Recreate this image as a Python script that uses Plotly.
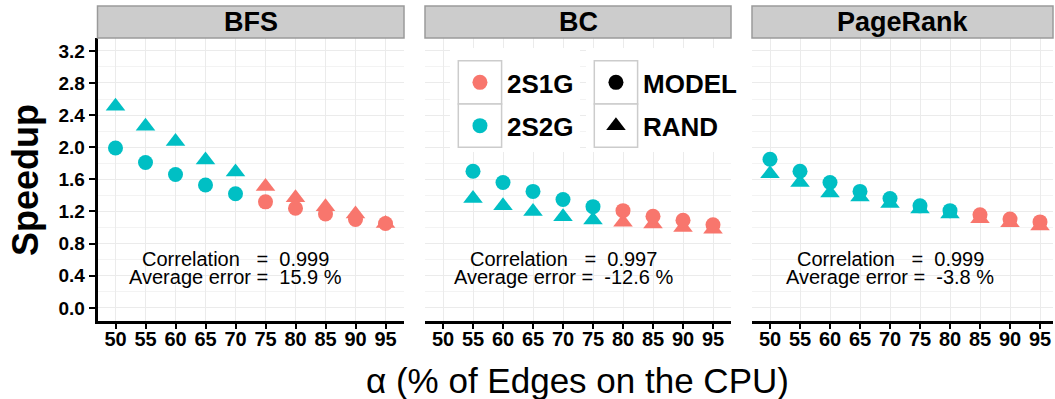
import plotly.graph_objects as go

W, H = 1055, 399

# ---------------- data ----------------
panels = ["BFS", "BC", "PageRank"]

bfs_alpha = [50, 55, 60, 65, 70, 75, 80, 85, 90, 95]
bfs_model = [1.99, 1.81, 1.66, 1.53, 1.42, 1.32, 1.24, 1.17, 1.10, 1.05]
bfs_rand = [2.51, 2.26, 2.07, 1.84, 1.69, 1.51, 1.37, 1.26, 1.17, 1.05]
bfs_config = ["2S2G", "2S2G", "2S2G", "2S2G", "2S2G", "2S1G", "2S1G", "2S1G", "2S1G", "2S1G"]

bc_alpha = [55, 60, 65, 70, 75, 80, 85, 90, 95]
bc_model = [1.70, 1.56, 1.45, 1.35, 1.26, 1.21, 1.14, 1.09, 1.035]
bc_rand = [1.36, 1.27, 1.20, 1.135, 1.095, 1.065, 1.045, 1.00, 0.98]
bc_config = ["2S2G", "2S2G", "2S2G", "2S2G", "2S2G", "2S1G", "2S1G", "2S1G", "2S1G"]

pr_alpha = [50, 55, 60, 65, 70, 75, 80, 85, 90, 95]
pr_model = [1.85, 1.70, 1.56, 1.45, 1.36, 1.27, 1.21, 1.16, 1.105, 1.07]
pr_rand = [1.67, 1.56, 1.43, 1.38, 1.30, 1.23, 1.17, 1.11, 1.06, 1.02]
pr_config = ["2S2G", "2S2G", "2S2G", "2S2G", "2S2G", "2S2G", "2S2G", "2S1G", "2S1G", "2S1G"]

correlation = ["0.999", "0.997", "0.999"]
avg_error = ["15.9", "-12.6", "-3.8"]

alpha_ticks = [50, 55, 60, 65, 70, 75, 80, 85, 90, 95]
speedup_ticks = [0.0, 0.4, 0.8, 1.2, 1.6, 2.0, 2.4, 2.8, 3.2]

config_labels = ["2S1G", "2S2G"]
config_colors = ["#F8766D", "#00BFC4"]
method_labels = ["MODEL", "RAND"]
method_symbols = ["circle", "triangle-up"]

x_title = "α (% of Edges on the CPU)"
y_title = "Speedup"

# ---------------- layout geometry (pixels) ----------------
FONT = "Liberation Sans, Arial, Helvetica, sans-serif"
panel_x = [(97.5, 404.0), (425.0, 731.0), (752.0, 1053.0)]
PANEL_TOP, PANEL_BOT = 38.0, 320.7
STRIP_TOP = 6.0
PX_PER_UNIT = 6.0
Y_RANGE = [-0.16, 3.36]

color_of = dict(zip(config_labels, config_colors))
sym_of = dict(zip(method_labels, method_symbols))
MSIZE = {"circle": 15, "triangle-up": 17}

fig = go.Figure()

data = [
    (bfs_alpha, bfs_model, bfs_rand, bfs_config),
    (bc_alpha, bc_model, bc_rand, bc_config),
    (pr_alpha, pr_model, pr_rand, pr_config),
]

for i, (alpha, model, rand, cfg) in enumerate(data):
    xa = "x" if i == 0 else f"x{i+1}"
    ya = "y" if i == 0 else f"y{i+1}"
    for method, vals in (("RAND", rand), ("MODEL", model)):
        fig.add_trace(go.Scatter(
            x=alpha, y=vals, mode="markers", xaxis=xa, yaxis=ya,
            marker=dict(symbol=sym_of[method], size=MSIZE[sym_of[method]], opacity=1,
                        color=[color_of[c] for c in cfg], line=dict(width=0)),
            showlegend=False, hoverinfo="skip", cliponaxis=False,
        ))

def px2paper_x(px):
    return px / W

def px2paper_y(py):
    return 1 - py / H

layout = dict(
    width=W, height=H,
    margin=dict(l=0, r=0, t=0, b=0),
    paper_bgcolor="white",
    plot_bgcolor="rgba(0,0,0,0)",
    showlegend=False,
    font=dict(family=FONT, color="black"),
)

shapes = []
annotations = []

for i, (x0, x1) in enumerate(panel_x):
    sfx = "" if i == 0 else str(i + 1)
    xr = [47, 47 + (x1 - x0) / PX_PER_UNIT]
    layout["xaxis" + sfx] = dict(
        domain=[px2paper_x(x0), px2paper_x(x1)], range=xr, anchor="y" + sfx,
        tickvals=alpha_ticks, ticktext=[str(v) for v in alpha_ticks],
        ticks="outside", ticklen=6, tickwidth=2, tickcolor="black",
        ticklabelstandoff=-7,
        showline=True, linecolor="black", linewidth=2.5,
        showgrid=True, gridcolor="#EBEBEB", gridwidth=1, zeroline=False,
        tickfont=dict(family=FONT, size=20, color="black", weight="bold"),
        fixedrange=True,
    )
    ydict = dict(
        domain=[px2paper_y(PANEL_BOT), px2paper_y(PANEL_TOP)], range=Y_RANGE,
        anchor="x" + sfx, tickvals=speedup_ticks,
        showgrid=True, gridcolor="#EBEBEB", gridwidth=1, zeroline=False,
        minor=dict(dtick=0.2, tick0=0, showgrid=True, gridcolor="#F3F3F3", gridwidth=1),
        fixedrange=True,
    )
    if i == 0:
        ydict.update(
            ticktext=[f"{v:.1f}" for v in speedup_ticks],
            ticks="outside", ticklen=6, tickwidth=2, tickcolor="black",
            showline=True, linecolor="black", linewidth=2.5,
            tickfont=dict(family=FONT, size=19, color="black", weight="bold"),
        )
    else:
        ydict.update(showticklabels=False, ticks="", showline=False)
    layout["yaxis" + sfx] = ydict

    # strip
    shapes.append(dict(type="rect", xref="paper", yref="paper",
                       x0=px2paper_x(x0), x1=px2paper_x(x1),
                       y0=px2paper_y(PANEL_TOP), y1=px2paper_y(STRIP_TOP),
                       fillcolor="#CCCCCC", line=dict(color="#9A9A9A", width=1.5),
                       layer="above"))
    annotations.append(dict(xref="paper", yref="paper",
                            x=px2paper_x((x0 + x1) / 2), y=px2paper_y(22.5),
                            text=panels[i], showarrow=False,
                            xanchor="center", yanchor="middle",
                            font=dict(family=FONT, size=27, color="black", weight="bold")))
    # statistics text
    nb = "\u00a0"
    annotations.append(dict(xref="x" + sfx, yref="y" + sfx, x=70, y=0.605,
                            text=f"Correlation{nb*3}={nb*2}{correlation[i]}",
                            showarrow=False, xanchor="center", yanchor="middle",
                            font=dict(family=FONT, size=20, color="black")))
    annotations.append(dict(xref="x" + sfx, yref="y" + sfx, x=70, y=0.385,
                            text=f"Average error ={nb*2}{avg_error[i]} %",
                            showarrow=False, xanchor="center", yanchor="middle",
                            font=dict(family=FONT, size=20, color="black")))

# axis titles
annotations.append(dict(xref="paper", yref="paper", x=px2paper_x(25), y=px2paper_y(180),
                        text=y_title, showarrow=False, textangle=-90,
                        xanchor="center", yanchor="middle",
                        font=dict(family=FONT, size=36, color="black", weight="bold")))
annotations.append(dict(xref="paper", yref="paper", x=px2paper_x(577), y=px2paper_y(380),
                        text=x_title, showarrow=False,
                        xanchor="center", yanchor="middle",
                        font=dict(family=FONT, size=35, color="black")))

# ---------------- custom legend (pixel overlay axis) ----------------
layout["xaxis4"] = dict(domain=[0, 1], range=[0, W], visible=False, anchor="y4", fixedrange=True)
layout["yaxis4"] = dict(domain=[0, 1], range=[H, 0], visible=False, anchor="x4", fixedrange=True)

KEY = 43.3
LEG_TOP = 60.7
legends = [
    (458.3, config_labels, ["circle"] * 2, config_colors, 450, 580),
    (594.3, method_labels, method_symbols, ["black", "black"], 586, 745),
]
for kx, labels, syms, cols, bgx0, bgx1 in legends:
    # legend background
    shapes.append(dict(type="rect", xref="x4", yref="y4", x0=bgx0, x1=bgx1,
                       y0=48, y1=152, fillcolor="white", line=dict(width=0), layer="below"))
    for j, (lab, sym, col) in enumerate(zip(labels, syms, cols)):
        ky = LEG_TOP + j * KEY
        shapes.append(dict(type="rect", xref="x4", yref="y4",
                           x0=kx, x1=kx + KEY, y0=ky, y1=ky + KEY,
                           fillcolor="white", line=dict(color="#CCCCCC", width=1.5),
                           layer="below"))
        annotations.append(dict(xref="x4", yref="y4", x=kx + KEY + 3, y=ky + KEY / 2 + 1.5,
                                text=lab, showarrow=False, xanchor="left", yanchor="middle",
                                font=dict(family=FONT, size=26, color="black", weight="bold")))
    fig.add_trace(go.Scatter(
        x=[kx + KEY / 2] * len(labels), y=[LEG_TOP + KEY * (j + 0.5) for j in range(len(labels))],
        mode="markers", xaxis="x4", yaxis="y4",
        marker=dict(symbol=syms, size=[MSIZE[s] for s in syms], color=cols,
                    opacity=1, line=dict(width=0)),
        showlegend=False, hoverinfo="skip", cliponaxis=False,
    ))

layout["shapes"] = shapes
layout["annotations"] = annotations
fig.update_layout(**layout)

fig.write_html("out.html")
